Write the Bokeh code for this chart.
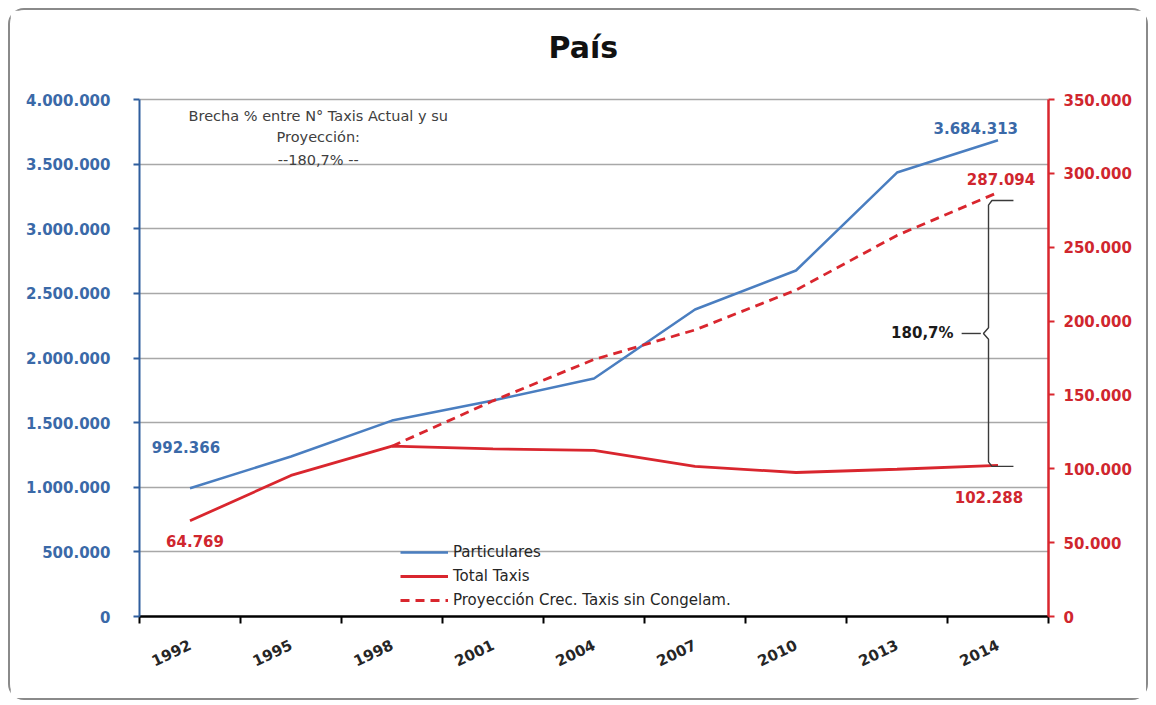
from bokeh.plotting import figure
from bokeh.models import Range1d, LinearAxis, FixedTicker, Label, Legend, LegendItem
from bokeh.embed import file_html
from bokeh.resources import INLINE

# ---------------- data ----------------
years = ["1992", "1995", "1998", "2001", "2004", "2007", "2010", "2013", "2014"]
particulares = [992366, 1238000, 1516000, 1671000, 1841000, 2375000, 2677000, 3435000, 3684313]
total_taxis = [64769, 95500, 115300, 113500, 112400, 101600, 97500, 99700, 102288]
proy_years = ["1998", "2001", "2004", "2007", "2010", "2013", "2014"]
proyeccion = [115300, 146000, 174000, 194000, 221000, 258000, 287094]
left_ticks = [0, 500000, 1000000, 1500000, 2000000, 2500000, 3000000, 3500000, 4000000]
right_ticks = [0, 50000, 100000, 150000, 200000, 250000, 300000, 350000]
brecha = "180,7%"

FONT = "DejaVu Sans"
BLUE = "#4A7EC0"
RED = "#D9262E"
BLUE_AX = "#2F5E9E"
BLUE_TXT = "#3A69A8"
RED_TXT = "#D0262E"

LEFT_MAX = 4000000
RIGHT_MAX = 350000
EXT = 596 / 517  # extra room above the chart for the title


def fmt(v):
    return f"{v:,}".replace(",", ".")


x_of = {y: i + 0.5 for i, y in enumerate(years)}
xs = [x_of[y] for y in years]
pxs = [x_of[y] for y in proy_years]

p = figure(width=1140, height=692, x_range=Range1d(0, len(years)), y_range=Range1d(0, LEFT_MAX * EXT),
           output_backend="svg", toolbar_location=None,
           min_border_left=129, min_border_right=102, min_border_top=10, min_border_bottom=86)
p.extra_y_ranges = {"right": Range1d(0, RIGHT_MAX * EXT)}
p.styles = {"margin": "8px", "border": "2px solid #8a8a8a", "border-radius": "16px"}
p.outline_line_color = None
p.background_fill_color = "white"
p.border_fill_color = "white"

# left axis
ya = p.yaxis[0]
ya.bounds = (0, LEFT_MAX)
ya.ticker = FixedTicker(ticks=left_ticks)
ya.major_label_overrides = {v: fmt(v) for v in left_ticks}
ya.axis_line_color = BLUE_AX
ya.axis_line_width = 2
ya.major_tick_line_color = BLUE_AX
ya.major_tick_line_width = 2
ya.major_tick_out = 6
ya.major_tick_in = 0
ya.minor_tick_line_color = None
ya.major_label_text_color = BLUE_TXT
ya.major_label_text_font = FONT
ya.major_label_text_font_style = "bold"
ya.major_label_text_font_size = "15px"
ya.major_label_standoff = 23

# right axis
ra = LinearAxis(y_range_name="right", ticker=FixedTicker(ticks=right_ticks), bounds=(0, RIGHT_MAX))
ra.major_label_overrides = {v: fmt(v) for v in right_ticks}
ra.axis_line_color = RED
ra.axis_line_width = 2.5
ra.major_tick_line_color = RED
ra.major_tick_line_width = 2
ra.major_tick_out = 6
ra.major_tick_in = 0
ra.minor_tick_line_color = None
ra.major_label_text_color = RED_TXT
ra.major_label_text_font = FONT
ra.major_label_text_font_style = "bold"
ra.major_label_text_font_size = "15px"
ra.major_label_standoff = 9
p.add_layout(ra, "right")

# bottom axis
xa = p.xaxis[0]
xa.ticker = FixedTicker(ticks=xs, minor_ticks=list(range(len(years) + 1)))
xa.major_label_overrides = {x_of[y]: y for y in years}
xa.axis_line_color = "black"
xa.axis_line_width = 2.5
xa.major_tick_out = 0
xa.major_tick_in = 0
xa.major_tick_line_color = None
xa.minor_tick_line_color = "black"
xa.minor_tick_line_width = 2
xa.minor_tick_out = 7
xa.minor_tick_in = 0
xa.major_label_orientation = 0.44
xa.major_label_text_font = FONT
xa.major_label_text_font_style = "bold"
xa.major_label_text_font_size = "15px"
xa.major_label_text_color = "#262626"
xa.major_label_standoff = 20

# grid
p.xgrid.grid_line_color = None
p.ygrid.ticker = FixedTicker(ticks=left_ticks)
p.ygrid.grid_line_color = "#A8A8A8"
p.ygrid.grid_line_width = 1.6

# series
r1 = p.line(xs, particulares, line_color=BLUE, line_width=2.5)
r2 = p.line(xs, total_taxis, line_color=RED, line_width=2.8, y_range_name="right")
r3 = p.line(pxs, proyeccion, line_color=RED, line_width=2.8, line_dash="9 6", y_range_name="right")

legend = Legend(items=[LegendItem(label="Particulares", renderers=[r1]),
                       LegendItem(label="Total Taxis", renderers=[r2]),
                       LegendItem(label="Proyección Crec. Taxis sin Congelam.", renderers=[r3])],
                location=(261, 6))
legend.background_fill_alpha = 0
legend.border_line_color = None
legend.padding = 0
legend.margin = 0
legend.spacing = 4
legend.glyph_width = 48
legend.glyph_height = 20
legend.label_height = 20
legend.label_standoff = 5
legend.label_text_font = FONT
legend.label_text_font_size = "15px"
legend.label_text_color = "#262626"
p.add_layout(legend, "center")

# brace between actual and projection
bx = [8.653, 8.44, 8.406, 8.406, 8.356, 8.406, 8.406, 8.44, 8.653]
by = [281600, 281600, 278500, 195500, 191600, 187700, 104700, 101600, 101600]
p.line(bx, by, line_color="#3a3a3a", line_width=1.4, y_range_name="right")
p.line([8.14, 8.33], [191600, 191600], line_color="#3a3a3a", line_width=1.4, y_range_name="right")


def lab(x, y, text, color, size, bold=True, align="center", rng="default", baseline="middle", yoff=0):
    p.add_layout(Label(x=x, y=y, y_offset=yoff, text=text, text_color=color, text_font=FONT,
                       text_font_size=size, text_font_style="bold" if bold else "normal",
                       text_align=align, text_baseline=baseline, y_range_name=rng))


lab(8.06, 191600, brecha, "#1a1a1a", "15px", align="right", rng="right")

# data labels
lab(0.46, 1315000, fmt(particulares[0]), BLUE_TXT, "15px")
lab(0.55, 50800, fmt(total_taxis[0]), RED_TXT, "15px", rng="right")
lab(8.28, 3783000, fmt(particulares[-1]), BLUE_TXT, "15px")
lab(8.53, 296500, fmt(proyeccion[-1]), RED_TXT, "15px", rng="right")
lab(8.41, 80600, fmt(total_taxis[-1]), RED_TXT, "15px", rng="right")

# note
lab(1.77, 3876000, "Brecha % entre N° Taxis Actual y su", "#404040", "14.5px", bold=False)
lab(1.77, 3710000, "Proyección:", "#404040", "14.5px", bold=False)
lab(1.77, 3535000, "--" + brecha + " --", "#404040", "14.5px", bold=False)

# title
lab(4.395, LEFT_MAX, "País", "#111111", "30px", yoff=52)

open("out.html", "w").write(file_html(p, INLINE))
